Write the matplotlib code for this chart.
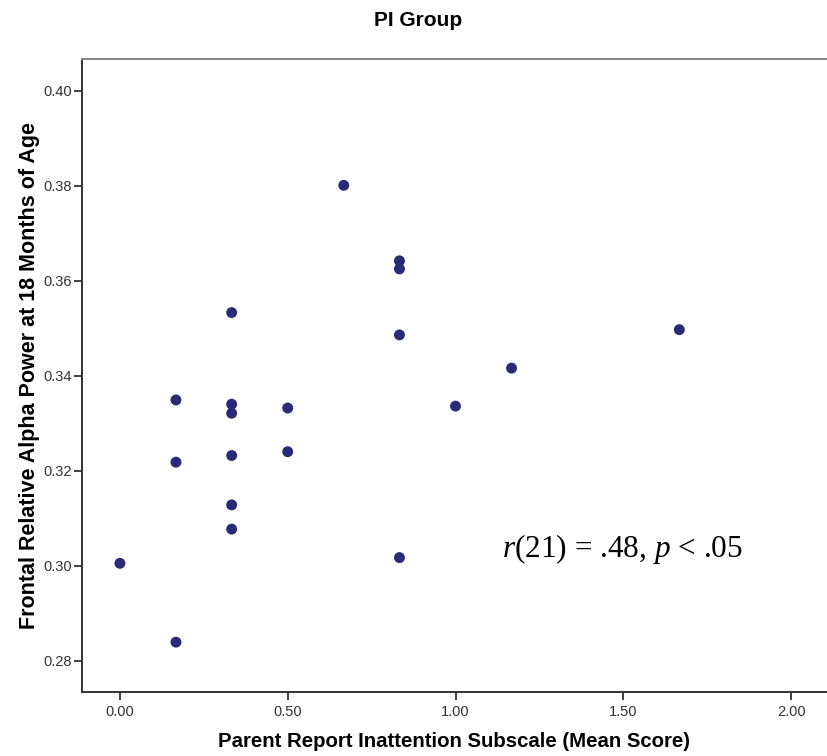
import matplotlib
matplotlib.use("Agg")
import matplotlib.pyplot as plt

# Parent report inattention (mean score) vs frontal relative alpha power
inattention = [0.667, 0.833, 0.833, 0.333, 0.833, 0.167, 0.333, 0.333, 0.500,
               0.167, 0.333, 0.500, 0.333, 0.333, 0.000, 0.833, 0.167,
               1.000, 1.167, 1.667]
alpha_power = [0.3801, 0.3642, 0.3625, 0.3533, 0.3486, 0.3349, 0.3340, 0.3321, 0.3332,
               0.3218, 0.3232, 0.3240, 0.3128, 0.3077, 0.3005, 0.3017, 0.2839,
               0.3336, 0.3416, 0.3497]

x_ticks = [0.0, 0.5, 1.0, 1.5, 2.0]
y_ticks = [0.28, 0.30, 0.32, 0.34, 0.36, 0.38, 0.40]

plt.rcParams["font.family"] = ["Liberation Sans", "DejaVu Sans"]
plt.rcParams["mathtext.fontset"] = "custom"
plt.rcParams["mathtext.rm"] = "Liberation Serif"
plt.rcParams["mathtext.it"] = "Liberation Serif:italic"

fig = plt.figure(figsize=(8.27, 7.56), dpi=100, facecolor="white")
ax = fig.add_axes([82 / 827, 1 - 692 / 756, 1 - 82 / 827, (692 - 59) / 756])

ax.scatter(inattention, alpha_power, s=62, color="#292b78", edgecolors="none", zorder=3)

ax.set_xlim(-0.113, 2.107)
ax.set_ylim(0.2734, 0.4067)
ax.set_xticks(x_ticks)
ax.set_xticklabels([f"{v:.2f}" for v in x_ticks])
ax.set_yticks(y_ticks)
ax.set_yticklabels([f"{v:.2f}" for v in y_ticks])
ax.tick_params(direction="out", length=5.5, width=1.3, color="#333333",
               labelsize=10.5, labelcolor="#333333")
ax.tick_params(axis="y", pad=2)
ax.tick_params(axis="x", pad=4)

ax.spines["right"].set_visible(False)
ax.spines["top"].set_color("#888888")
ax.spines["top"].set_linewidth(1.5)
for side in ("left", "bottom"):
    ax.spines[side].set_color("#333333")
    ax.spines[side].set_linewidth(1.4)

ax.set_xlabel("Parent Report Inattention Subscale (Mean Score)", fontsize=14.7,
              fontweight="bold", labelpad=9)
ax.set_ylabel("Frontal Relative Alpha Power at 18 Months of Age", fontsize=15.5,
              fontweight="bold", labelpad=2)

fig.text(418 / 827, 1 - 21 / 756, "PI Group", fontsize=15, fontweight="bold",
         ha="center", va="center")

ax.text(1.139, 0.3018, r"$r$(21) = .48, $p$ < .05", fontsize=22.5,
        family="Liberation Serif", ha="left", va="baseline")

fig.savefig("out.png", dpi=100, facecolor="white")
